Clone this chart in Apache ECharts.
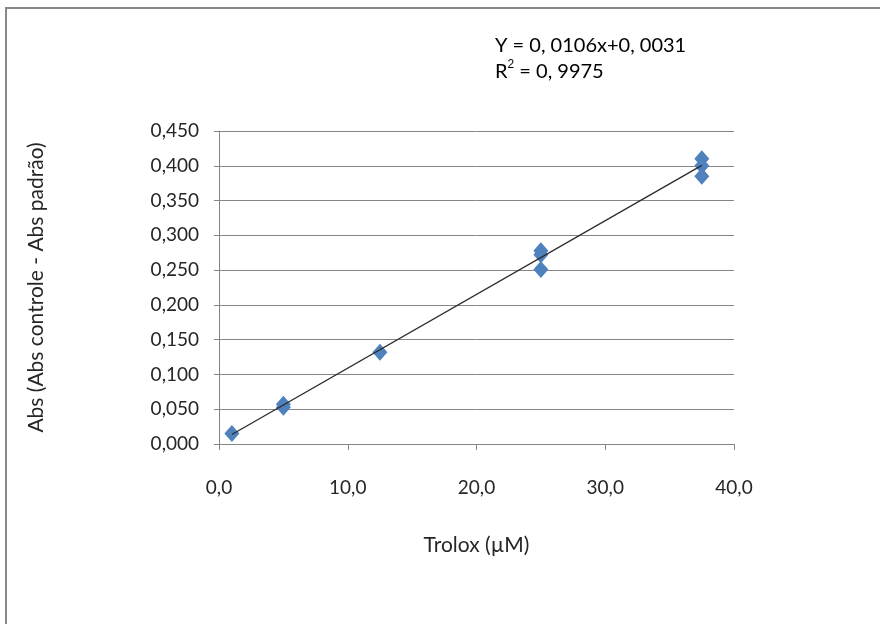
<!DOCTYPE html>
<html>
<head>
<meta charset="utf-8">
<script src="https://cdn.jsdelivr.net/npm/echarts@6/dist/echarts.min.js"></script>
<style>
  html, body { margin: 0; padding: 0; background: #fff; }
  #chart { width: 880px; height: 624px; }
</style>
</head>
<body>
<div id="chart"></div>
<script>
// dados (Trolox x absorbância)
let trolox = [1, 5, 5, 12.5, 25, 25, 25, 37.5, 37.5, 37.5];
let absDiff = [0.015, 0.053, 0.057, 0.132, 0.278, 0.272, 0.251, 0.410, 0.400, 0.385];
// linha de tendência: pontos extremos
let trendX = [1, 37.5];
let trendY = [0.0137, 0.4006];
let equationText = ['Y = 0, 0106x+0, 0031', 'R{sup|2} = 0, 9975'];

let fontName = 'Lato, "Open Sans", sans-serif';
let txtColor = '#262626';

let myChart = echarts.init(document.getElementById('chart'));

let option = {
  animation: false,
  backgroundColor: '#fff',
  grid: { left: 219, right: 146, top: 131, bottom: 180 },
  xAxis: {
    type: 'value',
    min: 0, max: 40, interval: 10,
    name: 'Trolox (µM)',
    nameLocation: 'middle',
    nameGap: 91,
    nameTextStyle: { color: txtColor, fontSize: 21, fontFamily: fontName },
    axisLine: { show: true, onZero: false, lineStyle: { color: '#868686', width: 1 } },
    axisTick: { show: true, length: 6, lineStyle: { color: '#868686' } },
    axisLabel: {
      color: txtColor, fontSize: 19, fontFamily: fontName, margin: 34,
      formatter: function (v) { return v.toFixed(1).replace('.', ','); }
    },
    splitLine: { show: false }
  },
  yAxis: {
    type: 'value',
    min: 0, max: 0.45, interval: 0.05,
    name: 'Abs (Abs controle - Abs padrão)',
    nameLocation: 'middle',
    nameGap: 172,
    nameTextStyle: { color: txtColor, fontSize: 21, fontFamily: fontName },
    axisLine: { show: true, onZero: false, lineStyle: { color: '#868686', width: 1 } },
    axisTick: { show: true, length: 5, lineStyle: { color: '#868686' } },
    axisLabel: {
      color: txtColor, fontSize: 19, fontFamily: fontName, margin: 20,
      formatter: function (v) { return v.toFixed(3).replace('.', ','); }
    },
    splitLine: { show: true, lineStyle: { color: '#868686', width: 1 } }
  },
  series: [
    {
      name: 'tendencia',
      type: 'line',
      data: trendX.map(function (x, i) { return [x, trendY[i]]; }),
      symbol: 'none',
      lineStyle: { color: '#2a2a2a', width: 1.3 },
      z: 3
    },
    {
      name: 'Abs',
      type: 'scatter',
      data: trolox.map(function (x, i) { return [x, absDiff[i]]; }),
      symbol: 'diamond',
      symbolSize: [15, 17],
      itemStyle: { color: '#4F81BD', opacity: 1 },
      z: 2
    }
  ],
  graphic: [
    // moldura externa do gráfico
    {
      type: 'rect',
      shape: { x: 6, y: 8, width: 900, height: 640 },
      style: { fill: 'none', stroke: '#888', lineWidth: 2 },
      silent: true
    },
    {
      type: 'text',
      left: 495, top: 33,
      style: {
        text: equationText[0] + '\n' + equationText[1],
        fill: '#000', fontSize: 20, fontFamily: fontName, lineHeight: 26,
        rich: { sup: { fontSize: 12, verticalAlign: 'top', padding: [0, 0, 9, 0] } }
      }
    }
  ]
};

myChart.setOption(option);
</script>
</body>
</html>
